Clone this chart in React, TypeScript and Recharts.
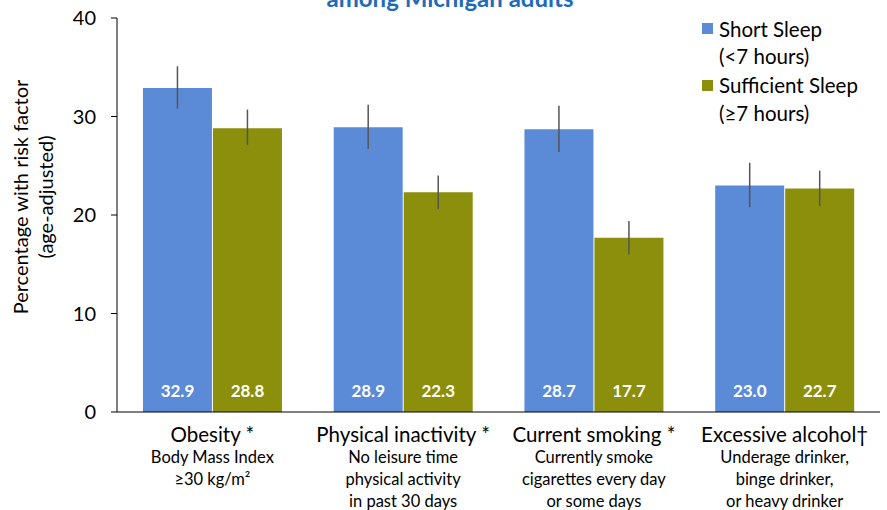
import React from "react";
import { BarChart, Bar, XAxis, YAxis, ErrorBar, LabelList } from "recharts";

const categories = ["Obesity *", "Physical inactivity *", "Current smoking *", "Excessive alcohol\u2020"];
const subLabels = [
  ["Body Mass Index", "\u226530 kg/m\u00b2"],
  ["No leisure time", "physical activity", "in past 30 days"],
  ["Currently smoke", "cigarettes every day", "or some days"],
  ["Underage drinker,", "binge drinker,", "or heavy drinker"],
];
const shortSleep = [32.9, 28.9, 28.7, 23.0];
const shortLow = [30.8, 26.7, 26.4, 20.8];
const shortHigh = [35.1, 31.2, 31.1, 25.3];
const sufficientSleep = [28.8, 22.3, 17.7, 22.7];
const sufficientLow = [27.1, 20.6, 16.0, 20.9];
const sufficientHigh = [30.7, 24.0, 19.4, 24.5];
const yTicks = [0, 10, 20, 30, 40];

const BLUE = "#5B8AD6";
const OLIVE = "#8B8F0B";
const FONT = "Lato, 'Open Sans', sans-serif";

const data = categories.map((c, i) => ({
  name: c,
  idx: i,
  short: shortSleep[i],
  sufficient: sufficientSleep[i],
  shortErr: [shortSleep[i] - shortLow[i], shortHigh[i] - shortSleep[i]],
  sufficientErr: [sufficientSleep[i] - sufficientLow[i], sufficientHigh[i] - sufficientSleep[i]],
}));

const CategoryTick = (props: any) => {
  const { x, y, payload } = props;
  const i = categories.indexOf(payload.value);
  const subs = subLabels[i] || [];
  return (
    <g>
      <text x={x} y={y + 30} textAnchor="middle" fontFamily={FONT} fontSize={20.5} fill="#000">
        {payload.value}
      </text>
      {subs.map((s, k) => (
        <text key={k} x={x} y={y + 51 + k * 22} textAnchor="middle" fontFamily={FONT} fontSize={16.5} fill="#000">
          {s}
        </text>
      ))}
    </g>
  );
};

const ValueLabel = (props: any) => {
  const { x, y, width, height, value } = props;
  return (
    <text
      x={x + width / 2}
      y={y + height - 15}
      textAnchor="middle"
      fontFamily={FONT}
      fontWeight="bold"
      fontSize={17}
      fill="#fff"
    >
      {Number(value).toFixed(1)}
    </text>
  );
};

const YLabel = (props: any) => {
  const vb = props.viewBox || {};
  const cy = (vb.y || 0) + (vb.height || 0) / 2 - 18;
  return (
    <g>
      <text transform={`translate(28, ${cy}) rotate(-90)`} textAnchor="middle" fontFamily={FONT} fontSize={20} fill="#000">
        Percentage with risk factor
      </text>
      <text transform={`translate(53, ${cy}) rotate(-90)`} textAnchor="middle" fontFamily={FONT} fontSize={20} fill="#000">
        (age-adjusted)
      </text>
    </g>
  );
};

const legendItems = [
  { color: BLUE, lines: ["Short Sleep", "(<7 hours)"] },
  { color: OLIVE, lines: ["Sufficient Sleep", "(\u22657 hours)"] },
];

export default function App() {
  return (
    <div style={{ position: "absolute", left: 0, top: 0, width: 887, height: 510, background: "#fff", overflow: "hidden" }}>
      <BarChart
        width={887}
        height={510}
        data={data}
        margin={{ top: 18, right: 7, left: 0, bottom: 0 }}
        barCategoryGap="13.6%"
        barGap={1}
      >
        <YAxis
          width={117}
          domain={[0, 40]}
          ticks={yTicks}
          interval={0}
          tickSize={6}
          tickMargin={15}
          axisLine={{ stroke: "#000", strokeWidth: 1 }}
          tickLine={{ stroke: "#000", strokeWidth: 1 }}
          tick={{ fontFamily: FONT, fontSize: 20, fill: "#000" }}
          label={<YLabel />}
        />
        <XAxis
          dataKey="name"
          height={98}
          interval={0}
          tickSize={0}
          tickMargin={0}
          tickLine={false}
          axisLine={{ stroke: "#000", strokeWidth: 1 }}
          tick={<CategoryTick />}
        />
        <Bar dataKey="short" name="Short Sleep (<7 hours)" fill={BLUE} isAnimationActive={false}>
          <ErrorBar dataKey="shortErr" width={0} stroke="#555" strokeWidth={1.5} direction="y" />
          <LabelList dataKey="short" content={<ValueLabel />} />
        </Bar>
        <Bar dataKey="sufficient" name="Sufficient Sleep (\u22657 hours)" fill={OLIVE} isAnimationActive={false}>
          <ErrorBar dataKey="sufficientErr" width={0} stroke="#555" strokeWidth={1.5} direction="y" />
          <LabelList dataKey="sufficient" content={<ValueLabel />} />
        </Bar>
      </BarChart>
      <svg width={887} height={510} style={{ position: "absolute", left: 0, top: 0, pointerEvents: "none" }}>
        <text x={450} y={6.7} textAnchor="middle" fontFamily={FONT} fontWeight="bold" fontSize={24} fill="#1F6BBA">
          among Michigan adults
        </text>
        {legendItems.map((item, i) => (
          <g key={i}>
            <rect x={702} y={23 + i * 57} width={11} height={11} fill={item.color} />
            {item.lines.map((l, k) => (
              <text key={k} x={719} y={36.7 + i * 56.5 + k * 27.5} fontFamily={FONT} fontSize={20.5} fill="#000">
                {l}
              </text>
            ))}
          </g>
        ))}
      </svg>
    </div>
  );
}
